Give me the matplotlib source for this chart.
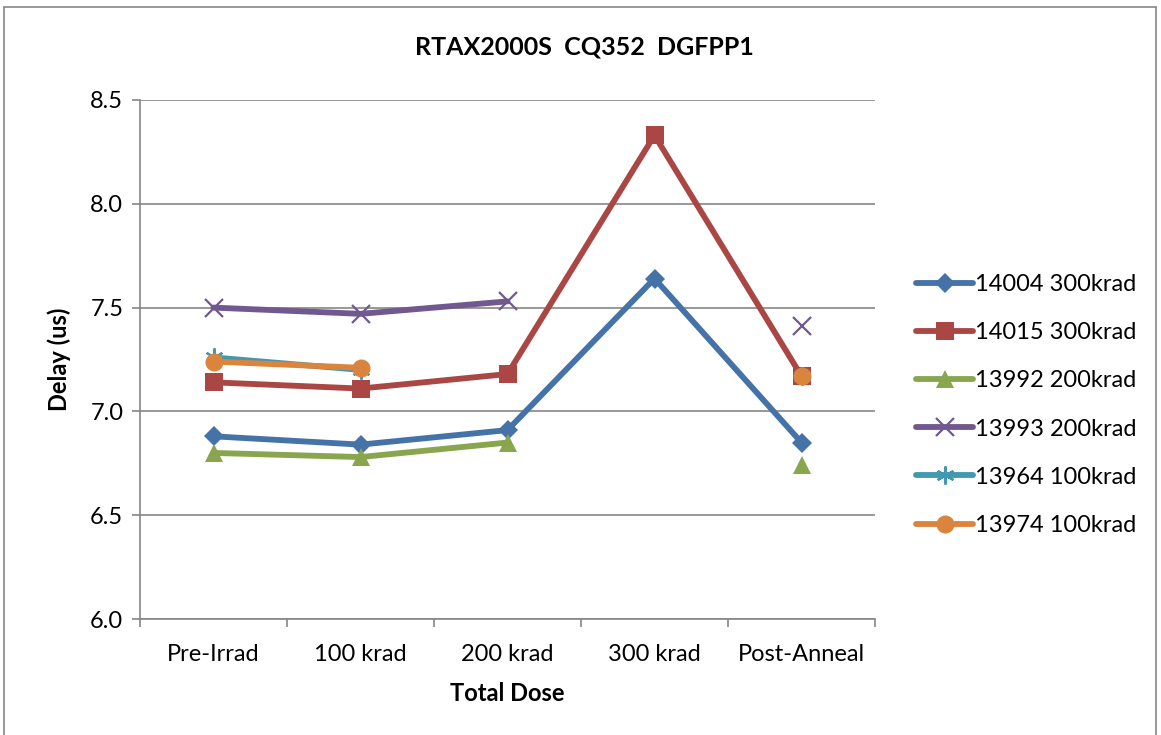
import numpy as np
import matplotlib.pyplot as plt
from matplotlib.patches import Rectangle

plt.rcParams['font.family'] = ['Lato', 'DejaVu Sans']

categories = ["Pre-Irrad", "100 krad", "200 krad", "300 krad", "Post-Anneal"]
nan = np.nan
s14004 = [6.88, 6.84, 6.91, 7.64, 6.85]
s14015 = [7.14, 7.11, 7.18, 8.33, 7.17]
s13992 = [6.80, 6.78, 6.85, nan, 6.74]
s13993 = [7.50, 7.47, 7.53, nan, 7.41]
s13964 = [7.26, 7.20, nan, nan, 7.17]
s13974 = [7.24, 7.21, nan, nan, 7.17]
labels = ["14004 300krad", "14015 300krad", "13992 200krad",
          "13993 200krad", "13964 100krad", "13974 100krad"]

series = [s14004, s14015, s13992, s13993, s13964, s13974]
colors = ["#4572A7", "#AA4643", "#89A54E", "#71588F", "#4198AF", "#DB843D"]
markers = ["D", "s", "^", "x", (6, 2, 0), "o"]
msizes = [10, 13, 13, 13, 13, 13]

fig = plt.figure(figsize=(11.61, 7.35), dpi=100)
fig.patches.append(Rectangle((4 / 1161, -0.01), 1152 / 1161, 1 - 7 / 735 + 0.01,
                             transform=fig.transFigure, fill=False,
                             edgecolor="#868686", linewidth=1.2))
ax = fig.add_axes([140 / 1161, 1 - 619 / 735, 735 / 1161, 519 / 735])

x = np.arange(len(categories))
for vals, lab, c, m, ms in zip(series, labels, colors, markers, msizes):
    mew = 1.6 if m in ("x", (6, 2, 0)) else 0
    ax.plot(x, vals, color=c, linewidth=4.2, marker=m, markersize=ms,
            markeredgewidth=mew, markeredgecolor=c, label=lab,
            solid_capstyle="round")

ax.set_xlim(-0.5, 4.5)
ax.set_ylim(6.0, 8.5)
ax.set_yticks(np.arange(6.0, 8.51, 0.5))
ax.set_yticklabels([f"{v:.1f}" for v in np.arange(6.0, 8.51, 0.5)])
ax.set_xticks(x)
ax.set_xticklabels(categories)
ax.set_xticks(np.arange(-0.5, 4.6, 1), minor=True)
ax.tick_params(axis="x", which="major", length=0, pad=18, labelsize=17)
ax.tick_params(axis="x", which="minor", length=6, color="#868686", width=1.2)
ax.tick_params(axis="y", length=6, color="#868686", width=1.2, labelsize=17, pad=6)
ax.grid(axis="y", color="#868686", linewidth=1.2)
ax.set_axisbelow(True)
for side in ["top", "right"]:
    ax.spines[side].set_visible(False)
for side in ["left", "bottom"]:
    ax.spines[side].set_color("#868686")
    ax.spines[side].set_linewidth(1.2)

ax.set_xlabel("Total Dose", fontsize=17, fontweight="bold", labelpad=12)
ax.set_ylabel("Delay (us)", fontsize=17, fontweight="bold", labelpad=14)
fig.text(584 / 1161, 1 - 47 / 735, "RTAX2000S  CQ352  DGFPP1", fontsize=18,
         fontweight="bold", ha="center", va="center")

ax.legend(loc="center left", bbox_to_anchor=(895 / 1161, 1 - 405 / 735),
          bbox_transform=fig.transFigure, frameon=False, fontsize=17,
          handlelength=2.4, labelspacing=1.15, handletextpad=0.1)

fig.savefig("out.png", dpi=100)
